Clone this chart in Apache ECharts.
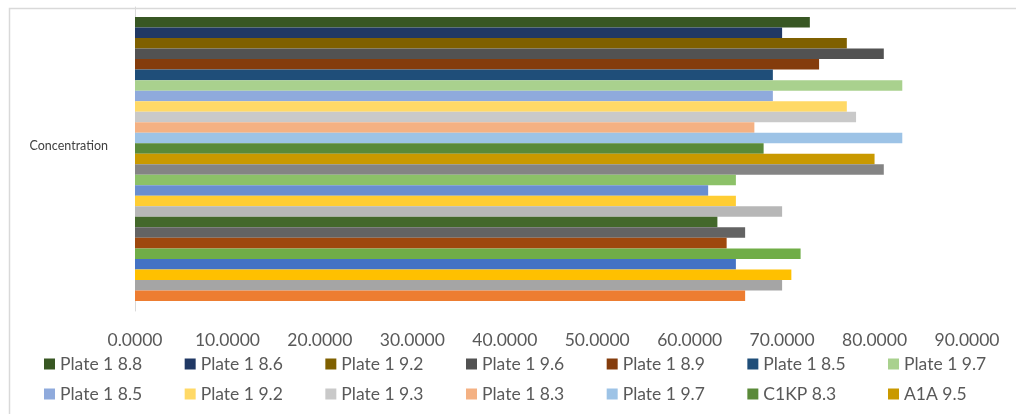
<!DOCTYPE html>
<html>
<head>
<meta charset="utf-8">
<script src="https://cdn.jsdelivr.net/npm/echarts@6/dist/echarts.min.js"></script>
<style>
  html, body { margin: 0; padding: 0; background: #ffffff; }
  #chart { width: 1016px; height: 414px; }
</style>
</head>
<body>
<div id="chart"></div>
<script>
// one category, one bar per sample (listed top to bottom as drawn)
var categories = ['Concentration'];

var seriesNames = [
    'Plate 1 8.8', 'Plate 1 8.6', 'Plate 1 9.2', 'Plate 1 9.6', 'Plate 1 8.9', 'Plate 1 8.5', 'Plate 1 9.7',
    'Plate 1 8.5 ', 'Plate 1 9.2 ', 'Plate 1 9.3', 'Plate 1 8.3', 'Plate 1 9.7 ', 'C1KP 8.3', 'A1A 9.5',
    'Series 15', 'Series 16', 'Series 17', 'Series 18', 'Series 19', 'Series 20', 'Series 21',
    'Series 22', 'Series 23', 'Series 24', 'Series 25', 'Series 26', 'Series 27'
];

var seriesValues = [
    73, 70, 77, 81, 74, 69, 83,
    69, 77, 78, 67, 83, 68, 80,
    81, 65, 62, 65, 70, 63, 66,
    64, 72, 65, 71, 70, 66
];

var seriesColors = [
    '#385723', '#203864', '#7f6000', '#525252', '#843c0c', '#1f4e79', '#a9d18e',
    '#8faadc', '#ffd966', '#c9c9c9', '#f4b183', '#9dc3e6', '#5a8a39', '#c99900',
    '#848484', '#8cc168', '#698ed0', '#ffcd33', '#b7b7b7', '#43682b', '#636363',
    '#9e480e', '#70ad47', '#4472c4', '#ffc000', '#a5a5a5', '#ed7d31'
];

// the two legend rows that are visible
var legendRow1 = seriesNames.slice(0, 7);
var legendRow2 = seriesNames.slice(7, 14);

var xTicks = { min: 0, max: 90, interval: 10 };

var FONT = 'Lato';

var series = [];
for (var i = 0; i < seriesNames.length; i++) {
    series.push({
        name: seriesNames[i],
        type: 'bar',
        barGap: '0%',
        barCategoryGap: '6.6%',
        itemStyle: { color: seriesColors[i] },
        emphasis: { disabled: true },
        data: [seriesValues[i]]
    });
}

function makeLegend(data, top) {
    return {
        data: data,
        left: 44,
        top: top,
        width: 990,
        padding: 0,
        orient: 'horizontal',
        icon: 'rect',
        itemWidth: 11,
        itemHeight: 11,
        itemGap: 14.67,
        selectedMode: false,
        textStyle: {
            color: '#595959',
            fontFamily: FONT,
            fontSize: 17.5,
            width: 110,
            lineHeight: 20,
            overflow: 'none'
        }
    };
}

var chart = echarts.init(document.getElementById('chart'), null, { renderer: 'canvas' });
chart.setOption({
    animation: false,
    backgroundColor: '#ffffff',
    graphic: [{
        type: 'rect',
        left: 7,
        top: 6,
        shape: { width: 1030, height: 430 },
        style: { fill: 'none', stroke: '#d9d9d9', lineWidth: 1.5 },
        silent: true
    }],
    grid: { left: 135, right: 49, top: 7, bottom: 103, containLabel: false },
    legend: [makeLegend(legendRow1, 354), makeLegend(legendRow2, 384)],
    xAxis: {
        type: 'value',
        min: xTicks.min,
        max: xTicks.max,
        interval: xTicks.interval,
        axisLine: { show: false },
        axisTick: { show: false },
        splitLine: { show: false },
        axisLabel: {
            color: '#595959',
            fontFamily: FONT,
            fontSize: 17.5,
            margin: 20,
            formatter: function (v) { return v.toFixed(4); }
        }
    },
    yAxis: {
        type: 'category',
        data: categories,
        axisLine: { show: true, lineStyle: { color: '#d9d9d9', width: 1 } },
        axisTick: { show: false },
        axisLabel: {
            color: '#404040',
            fontFamily: FONT,
            fontSize: 12.5,
            margin: 27,
            verticalAlign: 'bottom',
            lineHeight: 26
        }
    },
    series: series
});
</script>
</body>
</html>
